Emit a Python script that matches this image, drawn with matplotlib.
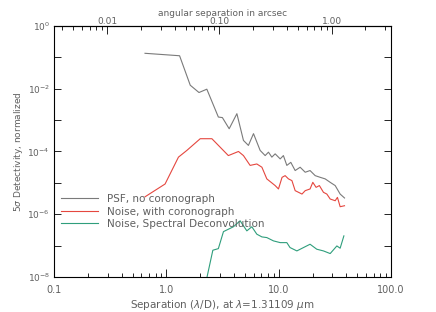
import matplotlib.pyplot as plt
from matplotlib.ticker import FixedLocator, LogLocator, NullFormatter, FuncFormatter

# separation in lambda/D and detectivity values
psf_x = [0.645, 1.31, 1.63, 1.95, 2.29, 2.90, 3.15, 3.62, 4.24, 4.85, 5.37, 5.96,
         6.83, 7.57, 8.10, 8.68, 9.29, 10.3, 11.0, 11.8, 12.8, 14.0, 15.5, 17.2,
         19.0, 21.1, 23.4, 25.9, 28.7, 31.8, 35.2, 38.5]
psf_y = [0.134, 0.112, 0.0129, 0.00755, 0.00964, 1.25e-3, 1.20e-3, 5.3e-4, 1.6e-3,
         2.25e-4, 1.56e-4, 3.7e-4, 1.08e-4, 7.4e-5, 9.5e-5, 6.6e-5, 8.4e-5, 5.8e-5,
         7.4e-5, 3.6e-5, 4.5e-5, 2.47e-5, 3.15e-5, 2.18e-5, 2.47e-5, 1.7e-5, 1.5e-5,
         1.34e-5, 1.04e-5, 8.2e-6, 4.4e-6, 3.3e-6]

cor_x = [0.645, 0.973, 1.28, 1.52, 2.0, 2.54, 3.56, 4.38, 4.85, 5.56, 6.38, 7.08,
         7.83, 9.29, 9.94, 10.7, 11.4, 12.2, 13.1, 14.0, 15.0, 16.1, 17.2, 19.0,
         20.1, 21.5, 23.0, 25.0, 26.8, 28.7, 31.8, 33.3, 35.2, 38.5]
cor_y = [3.6e-6, 9.2e-6, 6.6e-5, 1.08e-4, 2.55e-4, 2.55e-4, 7.4e-5, 1.0e-4, 7.4e-5,
         3.6e-5, 4.0e-5, 3.15e-5, 1.34e-5, 8.2e-6, 6.4e-6, 1.5e-5, 1.7e-5, 1.34e-5,
         1.18e-5, 5.65e-6, 5.0e-6, 4.4e-6, 5.65e-6, 6.4e-6, 1.04e-5, 7.2e-6, 8.2e-6,
         5.0e-6, 4.4e-6, 3.06e-6, 2.7e-6, 3.45e-6, 1.74e-6, 1.87e-6]

sd_x = [2.0, 2.59, 2.90, 3.22, 3.95, 4.53, 5.2, 5.76, 6.38, 7.08, 7.83, 8.97,
        10.3, 11.8, 12.6, 14.5, 16.6, 19.0, 21.8, 25.0, 28.7, 32.9, 35.2, 38.0]
sd_y = [1e-9, 7.15e-8, 8.05e-8, 2.8e-7, 4.0e-7, 6.2e-7, 2.96e-7, 4.0e-7, 2.32e-7,
        1.9e-7, 1.81e-7, 1.42e-7, 1.25e-7, 1.25e-7, 8.7e-8, 6.8e-8, 8.7e-8, 1.11e-7,
        7.7e-8, 6.8e-8, 5.6e-8, 9.8e-8, 8.3e-8, 2.05e-7]

labels = ["PSF, no coronograph", "Noise, with coronograph", "Noise, Spectral Deconvolution"]
arcsec_per_ld = 0.0338  # lambda/D in arcsec at 1.31109 um

txt = "#606060"
fig = plt.figure(figsize=(4.36, 3.12), dpi=100)
ax = fig.add_axes([0.124, 0.112, 0.773, 0.805])

ax.plot(psf_x, psf_y, color="#7a7a7a", lw=0.8, label=labels[0])
ax.plot(cor_x, cor_y, color="#e5473f", lw=0.8, label=labels[1])
ax.plot(sd_x, sd_y, color="#2f9e7c", lw=0.8, label=labels[2])

ax.set_xscale("log")
ax.set_yscale("log")
ax.set_xlim(0.1, 100)
ax.set_ylim(1e-8, 1)

ax.xaxis.set_major_locator(FixedLocator([0.1, 1, 10, 100]))
ax.xaxis.set_major_formatter(FuncFormatter(lambda v, p: "%.1f" % v))
ax.xaxis.set_minor_locator(LogLocator(base=10, subs=range(2, 10)))
ax.xaxis.set_minor_formatter(NullFormatter())

ax.yaxis.set_major_locator(FixedLocator([10.0**k for k in range(-8, 1)]))


def yfmt(v, p):
    import math
    k = int(round(math.log10(v)))
    return r"$10^{%d}$" % k if k % 2 == 0 else ""


ax.yaxis.set_major_formatter(FuncFormatter(yfmt))
ax.yaxis.set_minor_formatter(NullFormatter())
ax.yaxis.set_minor_locator(FixedLocator([]))

ax.tick_params(which="both", direction="in", right=True, top=False,
               labelsize=7, labelcolor=txt, width=0.6)
ax.tick_params(axis="x", which="major", length=6, pad=6)
ax.tick_params(axis="x", which="minor", length=3)
ax.tick_params(axis="y", which="major", length=5, pad=3, labelsize=6.5)
for s in ax.spines.values():
    s.set_linewidth(0.8)

sec = ax.secondary_xaxis("top", functions=(lambda x: x * arcsec_per_ld,
                                           lambda x: x / arcsec_per_ld))
sec.xaxis.set_major_locator(FixedLocator([0.01, 0.1, 1.0]))
sec.xaxis.set_major_formatter(FuncFormatter(lambda v, p: "%.2f" % v))
sec.xaxis.set_minor_locator(LogLocator(base=10, subs=range(2, 10)))
sec.xaxis.set_minor_formatter(NullFormatter())
sec.tick_params(which="both", direction="in", labelsize=6.5, labelcolor=txt, width=0.6)
sec.tick_params(which="major", length=6, pad=0)
sec.tick_params(which="minor", length=3)
sec.set_xlabel("angular separation in arcsec", fontsize=6.5, color=txt, labelpad=1)

ax.set_xlabel(r"Separation ($\lambda$/D), at $\lambda$=1.31109 $\mu$m",
              fontsize=7.5, color=txt, labelpad=2)
ax.set_ylabel(r"5$\sigma$ Detectivity, normalized", fontsize=6.5, color=txt, labelpad=2)

leg = ax.legend(loc="upper left", bbox_to_anchor=(0.0, 0.36), frameon=False,
                fontsize=7.5, handlelength=3.5, handletextpad=0.9,
                labelspacing=0.25, borderaxespad=0.3)
for t in leg.get_texts():
    t.set_color(txt)

fig.savefig("out.png", dpi=100)
